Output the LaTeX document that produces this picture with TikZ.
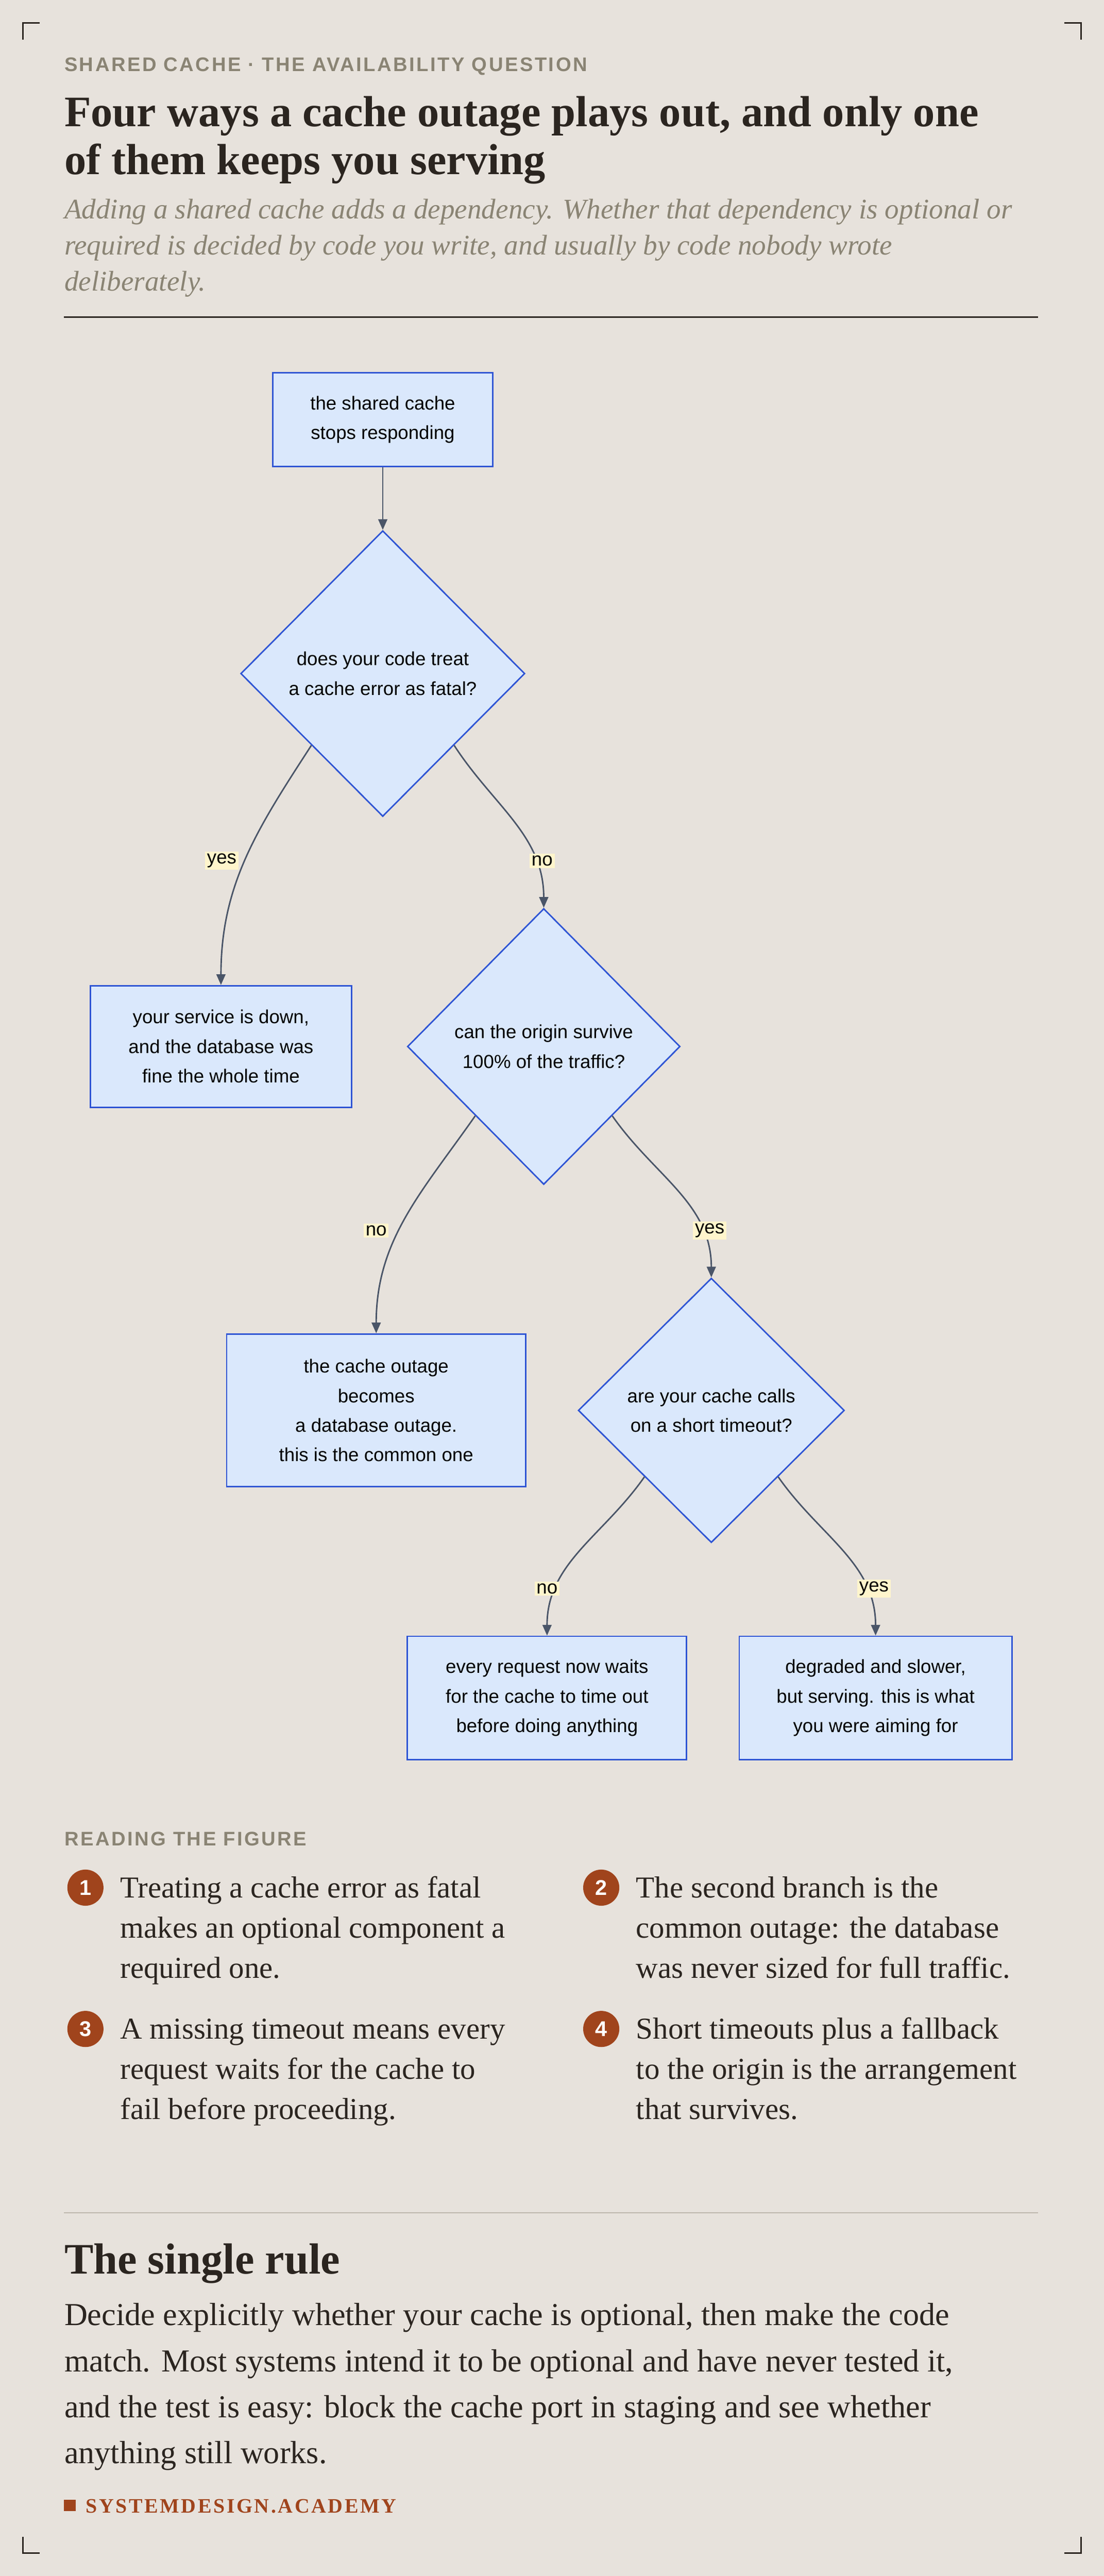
\documentclass[tikz,border=0pt]{standalone}
\usepackage{fontspec}
\setmainfont{Liberation Serif}
\setsansfont{Liberation Sans}
\newfontfamily\eyefont[LetterSpace=9]{Liberation Sans}
\newfontfamily\footfont[LetterSpace=9]{Liberation Serif}
\usetikzlibrary{shapes.geometric,arrows.meta,calc}
\definecolor{bg}{HTML}{E7E2DC}
\definecolor{ink}{HTML}{2B2520}
\definecolor{muted}{HTML}{8A8474}
\definecolor{boxfill}{HTML}{DAE8FC}
\definecolor{boxline}{HTML}{2F55D4}
\definecolor{edge}{HTML}{4A5568}
\definecolor{lab}{HTML}{FFF5CC}
\definecolor{rust}{HTML}{A0441C}
\definecolor{rulec}{HTML}{BDB6AC}
\begin{document}
\begin{tikzpicture}[x=1pt,y=-1pt,
  box/.style={draw=boxline,fill=boxfill,line width=0.9pt,inner sep=0pt,align=center,
    font=\sffamily\fontsize{11.5}{18}\selectfont,text=black},
  dia/.style={diamond,draw=boxline,fill=boxfill,line width=0.9pt,inner sep=0pt,align=center,
    font=\sffamily\fontsize{11.5}{18}\selectfont,text=black},
  lbl/.style={fill=lab,inner sep=1.2pt,font=\sffamily\fontsize{11.5}{13}\selectfont,text=black},
  arr/.style={draw=edge,line width=0.9pt,-{Triangle[length=6.5pt,width=5.5pt]}},
  corner/.style={draw=ink,line width=1pt},
  txt/.style={anchor=base west,inner sep=0pt,text=ink},
  item/.style={anchor=base west,inner sep=0pt,text=ink,font=\fontsize{18.5}{24}\selectfont},
  badge/.style={circle,fill=rust,text=white,inner sep=0pt,minimum size=22pt,font=\sffamily\bfseries\fontsize{13}{13}\selectfont}]
\fill[bg] (0,0) rectangle (672,1568);
\useasboundingbox (0,0) rectangle (672,1568);
% corners
\draw[corner] (14,24) -- (14,14) -- (24,14);
\draw[corner] (648,14) -- (658,14) -- (658,24);
\draw[corner] (14,1544) -- (14,1554) -- (24,1554);
\draw[corner] (648,1554) -- (658,1554) -- (658,1544);
% header
\node[txt,text=muted,font=\eyefont\bfseries\fontsize{12}{12}\selectfont] (eyebrow) at (39,43.5) {SHARED CACHE · THE AVAILABILITY QUESTION};
\node[txt,font=\bfseries\fontsize{26.5}{30}\selectfont] (t1) at (39,77) {Four ways a cache outage plays out, and only one};
\node[txt,font=\bfseries\fontsize{26.5}{30}\selectfont] (t2) at (39,106) {of them keeps you serving};
\node[txt,text=muted,font=\itshape\fontsize{17.3}{22}\selectfont] (s1) at (39,133) {Adding a shared cache adds a dependency. Whether that dependency is optional or};
\node[txt,text=muted,font=\itshape\fontsize{17.3}{22}\selectfont] (s2) at (39,155) {required is decided by code you write, and usually by code nobody wrote};
\node[txt,text=muted,font=\itshape\fontsize{17.3}{22}\selectfont] (s3) at (39,177) {deliberately.};
\draw[ink,line width=0.9pt] (39,193) -- (632,193);
% flowchart
\node[box,minimum width=134pt,minimum height=57pt] (n1) at (233,255.5) {the shared cache\\stops responding};
\node[dia,minimum width=173pt,minimum height=174pt] (d1) at (233,410) {does your code treat\\a cache error as fatal?};
\node[box,minimum width=159pt,minimum height=74pt] (b1) at (134.5,637) {your service is down,\\and the database was\\fine the whole time};
\node[dia,minimum width=166pt,minimum height=168pt] (d2) at (331,637) {can the origin survive\\100\% of the traffic?};
\node[box,minimum width=182pt,minimum height=93pt] (b2) at (229,858.5) {the cache outage\\becomes\\a database outage.\\this is the common one};
\node[dia,minimum width=162pt,minimum height=161pt] (d3) at (433,858.5) {are your cache calls\\on a short timeout?};
\node[box,minimum width=170pt,minimum height=75pt] (b3) at (333,1033.5) {every request now waits\\for the cache to time out\\before doing anything};
\node[box,minimum width=166pt,minimum height=75pt] (b4) at (533,1033.5) {degraded and slower,\\but serving. this is what\\you were aiming for};
\draw[arr] (n1.south) -- (d1.north);
\draw[arr] ($(d1.west)!0.5!(d1.south)$) to[out=-123,in=90] (b1.north);
\draw[arr] ($(d1.east)!0.5!(d1.south)$) to[out=-57,in=90] (d2.north);
\draw[arr] ($(d2.west)!0.5!(d2.south)$) to[out=-125,in=90] (b2.north);
\draw[arr] ($(d2.east)!0.5!(d2.south)$) to[out=-55,in=90] (d3.north);
\draw[arr] ($(d3.west)!0.5!(d3.south)$) to[out=-125,in=90] (b3.north);
\draw[arr] ($(d3.east)!0.5!(d3.south)$) to[out=-55,in=90] (b4.north);
\node[lbl] (l1) at (135,524) {yes};
\node[lbl] (l2) at (330,524) {no};
\node[lbl] (l3) at (229,749) {no};
\node[lbl] (l4) at (432,749) {yes};
\node[lbl] (l5) at (333,967) {no};
\node[lbl] (l6) at (532,967) {yes};
% reading the figure
\node[txt,text=muted,font=\eyefont\bfseries\fontsize{12}{12}\selectfont] (rf) at (39,1123.5) {READING THE FIGURE};
\node[badge] (c1) at (52,1149) {1};
\node[item] (i1a) at (73,1155) {Treating a cache error as fatal};
\node[item] (i1b) at (73,1179.5) {makes an optional component a};
\node[item] (i1c) at (73,1204) {required one.};
\node[badge] (c2) at (366,1149) {2};
\node[item] (i2a) at (387,1155) {The second branch is the};
\node[item] (i2b) at (387,1179.5) {common outage: the database};
\node[item] (i2c) at (387,1204) {was never sized for full traffic.};
\node[badge] (c3) at (52,1235) {3};
\node[item] (i3a) at (73,1241) {A missing timeout means every};
\node[item] (i3b) at (73,1265.5) {request waits for the cache to};
\node[item] (i3c) at (73,1290) {fail before proceeding.};
\node[badge] (c4) at (366,1235) {4};
\node[item] (i4a) at (387,1241) {Short timeouts plus a fallback};
\node[item] (i4b) at (387,1265.5) {to the origin is the arrangement};
\node[item] (i4c) at (387,1290) {that survives.};
\draw[rulec,line width=0.7pt] (39,1347) -- (632,1347);
% single rule
\node[txt,font=\bfseries\fontsize{26.5}{30}\selectfont] (h2) at (39,1384) {The single rule};
\node[txt,font=\fontsize{19.5}{28}\selectfont] (r1) at (39,1415.5) {Decide explicitly whether your cache is optional, then make the code};
\node[txt,font=\fontsize{19.5}{28}\selectfont] (r2) at (39,1443.5) {match. Most systems intend it to be optional and have never tested it,};
\node[txt,font=\fontsize{19.5}{28}\selectfont] (r3) at (39,1471.5) {and the test is easy: block the cache port in staging and see whether};
\node[txt,font=\fontsize{19.5}{28}\selectfont] (r4) at (39,1499.5) {anything still works.};
% footer
\fill[rust] (39,1521.5) rectangle (46,1528.5);
\node[txt,text=rust,font=\footfont\bfseries\fontsize{12.5}{12}\selectfont] (ft) at (52,1529.5) {SYSTEMDESIGN.ACADEMY};
\end{tikzpicture}
\end{document}
